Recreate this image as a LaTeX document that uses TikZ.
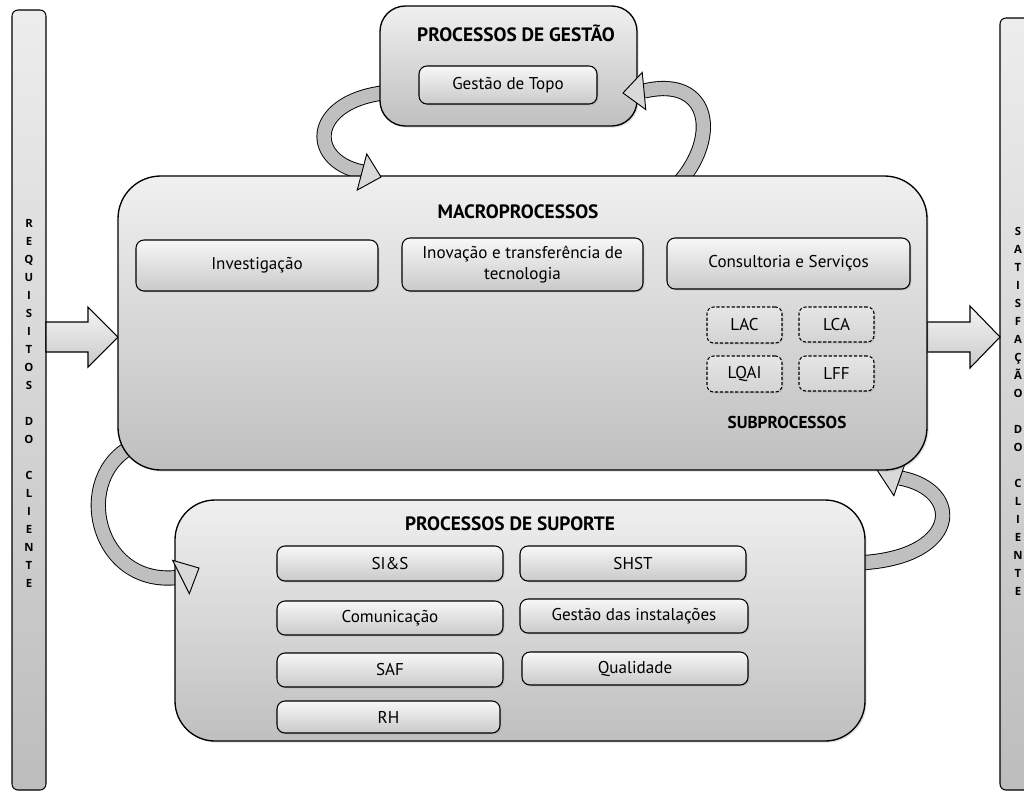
\documentclass[tikz,border=0pt]{standalone}
\usepackage{fontspec}
\setmainfont{PT Sans}
\newfontfamily\barfont{Open Sans}
\usetikzlibrary{calc,fit,shadows}
\newcommand\boxfont{\fontsize{12.8}{16}\selectfont}
\begin{document}
\begin{tikzpicture}[x=0.75pt,y=-0.75pt,
 outl/.style={draw=black, line width=0.8pt},
 bigbox/.style={outl, line width=1pt, rounded corners=#1, top color=gray!12, bottom color=gray!50, inner sep=0pt, outer sep=0pt, drop shadow={opacity=0.25,shadow xshift=1.2pt,shadow yshift=-1.2pt}},
 sidebar/.style={outl, rounded corners=4.5pt, top color=gray!14, bottom color=gray!52, inner sep=0pt},
 ibox/.style={outl, rounded corners=6pt, top color=gray!6, bottom color=gray!42, inner sep=0pt, drop shadow={opacity=0.3,shadow xshift=1pt,shadow yshift=-1pt}, label={[font=\boxfont, align=center, inner sep=0pt]center:#1}},
 dbox/.style={outl, dash pattern=on 2.4pt off 1.4pt, rounded corners=5pt, top color=gray!20, bottom color=gray!34, inner sep=0pt, drop shadow={opacity=0.25,shadow xshift=1pt,shadow yshift=-1pt}, label={[font=\boxfont, inner sep=0pt]center:#1}},
 titletext/.style={font=\bfseries\fontsize{14.5}{16}\selectfont, inner sep=0pt},
 ribbon/.style={draw=black, line width=0.7pt, double=gray!50, double distance=10pt},
 headtip/.style={draw=black, line width=0.7pt, fill=gray!30, line join=miter},
 blockarrow/.style={draw=black, line width=0.8pt, top color=gray!8, bottom color=gray!42, line join=miter},
 barletters/.style={align=center, font=\barfont\bfseries\fontsize{8.5}{13.5}\selectfont, inner sep=0pt}
]
\useasboundingbox (0,0) rectangle (1024,797);
\fill[white] (0,0) rectangle (1024,797);

% side bars
\node[sidebar, fit={(12,10) (46,790)}] (lbar) {};
\node[sidebar, fit={(1000,18) (1040,790)}] (rbar) {};
\node[barletters] (req) at (29,403) {R\\E\\Q\\U\\I\\S\\I\\T\\O\\S\\[13.5pt]D\\O\\[13.5pt]C\\L\\I\\E\\N\\T\\E};
\node[barletters] (sat) at (1018,411.5) {S\\A\\T\\I\\S\\F\\A\\Ç\\Ã\\O\\[13.5pt]D\\O\\[13.5pt]C\\L\\I\\E\\N\\T\\E};

% block arrows
\draw[blockarrow] (46,322) -- (88,322) -- (88,307) -- (118,337) -- (88,367) -- (88,352) -- (46,352) -- cycle;
\draw[blockarrow] (927,322) -- (970,322) -- (970,306) -- (1000,337) -- (970,368) -- (970,352) -- (927,352) -- cycle;

% ribbon coordinates
\coordinate (a1s) at (392,92);  \coordinate (a1b) at (362,172); \coordinate (a1t) at (381,177);
\coordinate (a2s) at (676,186); \coordinate (a2b) at (644,91);  \coordinate (a2t) at (623,93);
\coordinate (a3s) at (135,445); \coordinate (a3b) at (181,577); \coordinate (a3t) at (199,568);
\coordinate (a4s) at (855,563); \coordinate (a4b) at (900,478); \coordinate (a4t) at (877,470);

% ribbon bodies
\draw[ribbon] (a1s) .. controls (310,98) and (305,160) .. (a1b);
\draw[ribbon] (a2s) .. controls (720,140) and (712,75) .. (a2b);
\draw[ribbon] (a3s) .. controls (70,475) and (95,590) .. (a3b);
\draw[ribbon] (a4s) .. controls (960,560) and (965,490) .. (a4b);

% support processes
\node[bigbox=30pt, fit={(175,500) (865,741)}] (sup) {};
\node[titletext] (suptitle) at (510,524) {PROCESSOS DE SUPORTE};
\node[ibox={SI\&S}, fit={(277,546) (503,581)}] (sis) {};
\node[ibox={SHST}, fit={(520,546) (746,581)}] (shst) {};
\node[ibox={Comunicação}, fit={(277,601) (503,635)}] (com) {};
\node[ibox={Gestão das instalações}, fit={(520,599) (748,633)}] (gi) {};
\node[ibox={SAF}, fit={(277,653) (503,687)}] (saf) {};
\node[ibox={Qualidade}, fit={(522,652) (748,685)}] (qual) {};
\node[ibox={RH}, fit={(277,701) (500,733)}] (rh) {};

\draw[headtip] (a3t) -- ($(a3b)!14pt!90:(a3t)$) -- ($(a3b)!14pt!-90:(a3t)$) -- cycle;
\draw[headtip] (a4t) -- ($(a4b)!14pt!90:(a4t)$) -- ($(a4b)!14pt!-90:(a4t)$) -- cycle;

% macro processes
\node[bigbox=32pt, fit={(118,176) (927,470)}] (macro) {};
\node[titletext] (macrotitle) at (518,212) {MACROPROCESSOS};
\node[ibox={Investigação}, fit={(136,240) (378,291)}] (inv) {};
\node[ibox={Inovação e transferência de\\tecnologia}, fit={(402,238) (643,291)}] (inov) {};
\node[ibox={Consultoria e Serviços}, fit={(667,238) (910,289)}] (cons) {};
\node[dbox={LAC}, fit={(707,307) (782,343)}] (lac) {};
\node[dbox={LCA}, fit={(799,307) (874,342)}] (lca) {};
\node[dbox={LQAI}, fit={(707,356) (782,392)}] (lqai) {};
\node[dbox={LFF}, fit={(799,356) (874,391)}] (lff) {};
\node[titletext, font=\bfseries\fontsize{12.9}{14}\selectfont] (subtitle) at (787,422) {SUBPROCESSOS};

% management processes
\node[bigbox=19pt, fit={(380,6) (637,126)}] (gestao) {};
\node[titletext] (gestaotitle) at (516,33) {PROCESSOS DE GESTÃO};
\node[ibox={Gestão de Topo}, fit={(419,66) (597,104)}] (topo) {};

\draw[headtip] (a1t) -- ($(a1b)!14pt!90:(a1t)$) -- ($(a1b)!14pt!-90:(a1t)$) -- cycle;
\draw[headtip] (a2t) -- ($(a2b)!14pt!90:(a2t)$) -- ($(a2b)!14pt!-90:(a2t)$) -- cycle;
\end{tikzpicture}
\end{document}
